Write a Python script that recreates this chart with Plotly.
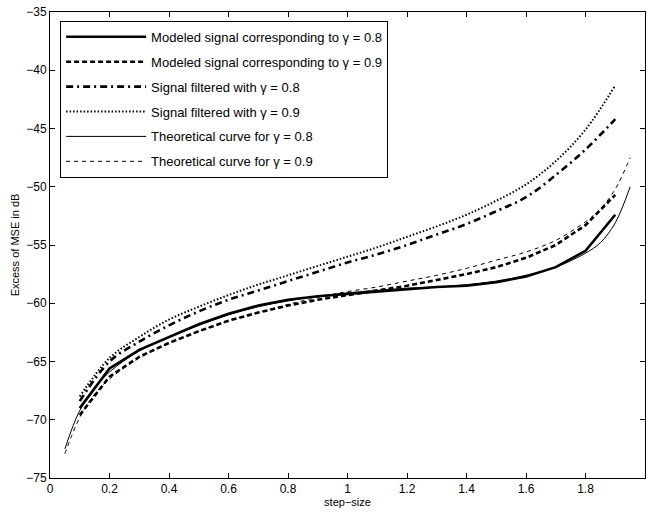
import plotly.graph_objects as go

# step-size grids
x_model = [0.1, 0.2, 0.3, 0.4, 0.5, 0.6, 0.7, 0.8, 0.9, 1.0, 1.1, 1.2, 1.3, 1.4, 1.5, 1.6, 1.7, 1.8, 1.9]
x_theory = [0.05, 0.1, 0.15, 0.2, 0.3, 0.4, 0.5, 0.6, 0.7, 0.8, 0.9, 1.0, 1.1, 1.2, 1.3, 1.4, 1.5, 1.6, 1.7, 1.8, 1.85, 1.9, 1.95]

# Excess of MSE in dB
modeled_08 = [-69.0, -65.6, -64.0, -62.9, -61.8, -60.9, -60.2, -59.7, -59.4, -59.2, -59.0, -58.8, -58.6, -58.5, -58.2, -57.7, -56.9, -55.5, -52.4]
modeled_09 = [-69.6, -66.3, -64.6, -63.4, -62.4, -61.5, -60.8, -60.2, -59.7, -59.3, -58.9, -58.5, -58.0, -57.5, -56.9, -56.1, -55.0, -53.3, -50.7]
filtered_08 = [-68.4, -65.0, -63.3, -61.9, -60.7, -59.7, -58.9, -58.1, -57.3, -56.5, -55.8, -55.0, -54.1, -53.2, -52.1, -50.9, -49.0, -46.8, -44.2]
filtered_09 = [-68.0, -64.7, -62.9, -61.4, -60.3, -59.3, -58.4, -57.6, -56.8, -56.0, -55.2, -54.3, -53.4, -52.4, -51.2, -49.8, -47.8, -45.1, -41.3]
theory_08 = [-72.5, -69.2, -67.3, -65.9, -64.1, -62.9, -61.9, -61.0, -60.3, -59.8, -59.4, -59.1, -58.9, -58.7, -58.6, -58.4, -58.1, -57.6, -56.9, -55.7, -54.8, -53.1, -50.0]
theory_09 = [-72.9, -69.8, -67.8, -66.5, -64.7, -63.4, -62.4, -61.5, -60.8, -60.1, -59.5, -59.0, -58.6, -58.1, -57.6, -57.0, -56.3, -55.6, -54.6, -53.0, -51.9, -50.2, -47.5]

names = [
    "Modeled signal corresponding to \u03b3 = 0.8",
    "Modeled signal corresponding to \u03b3 = 0.9",
    "Signal filtered with \u03b3 = 0.8",
    "Signal filtered with \u03b3 = 0.9",
    "Theoretical curve for \u03b3 = 0.8",
    "Theoretical curve for \u03b3 = 0.9",
]

FONT = "Liberation Sans, Arial, Helvetica"

fig = go.Figure()
series = [
    (x_model, modeled_08, dict(width=2.6, dash="solid"), "linear"),
    (x_model, modeled_09, dict(width=2.6, dash="5px,3px"), "linear"),
    (x_model, filtered_08, dict(width=2.6, dash="7px,4px,2px,4px"), "spline"),
    (x_model, filtered_09, dict(width=2.0, dash="1.5px,2px"), "spline"),
    (x_theory, theory_08, dict(width=1.0, dash="solid"), "spline"),
    (x_theory, theory_09, dict(width=1.0, dash="4px,4px"), "spline"),
]
for i, (xs, ys, ln, shape) in enumerate(series):
    fig.add_trace(go.Scatter(
        x=xs, y=ys, mode="lines", name=names[i], legendgroup=str(i),
        line=dict(color="black", shape=shape, **ln),
    ))

axis_common = dict(
    showgrid=False, zeroline=False, showline=True, linecolor="black", linewidth=1,
    mirror="ticks", ticks="inside", ticklen=5, tickcolor="black", automargin=False,
    tickfont=dict(family=FONT, size=12, color="black"),
)
fig.update_xaxes(range=[0, 2], dtick=0.2, tick0=0,
                 title=dict(text="step\u2212size", font=dict(family=FONT, size=11, color="black"), standoff=2),
                 **axis_common)
fig.update_yaxes(range=[-75, -35], dtick=5, tick0=-75,
                 title=dict(text="Excess of MSE in dB", font=dict(family=FONT, size=11, color="black"), standoff=4),
                 **axis_common)

fig.update_layout(
    width=648, height=512,
    margin=dict(l=50, r=3, t=12, b=34),
    plot_bgcolor="white", paper_bgcolor="white",
    legend=dict(x=0.017, y=0.981, xanchor="left", yanchor="top",
                bordercolor="black", borderwidth=1, bgcolor="white",
                font=dict(family=FONT, size=13, color="black"),
                traceorder="grouped", tracegroupgap=5, itemwidth=80),
    showlegend=True,
)

fig.write_html("out.html", config={"displayModeBar": False},
               post_script="document.body.style.margin='0';document.body.style.overflow='hidden';")
